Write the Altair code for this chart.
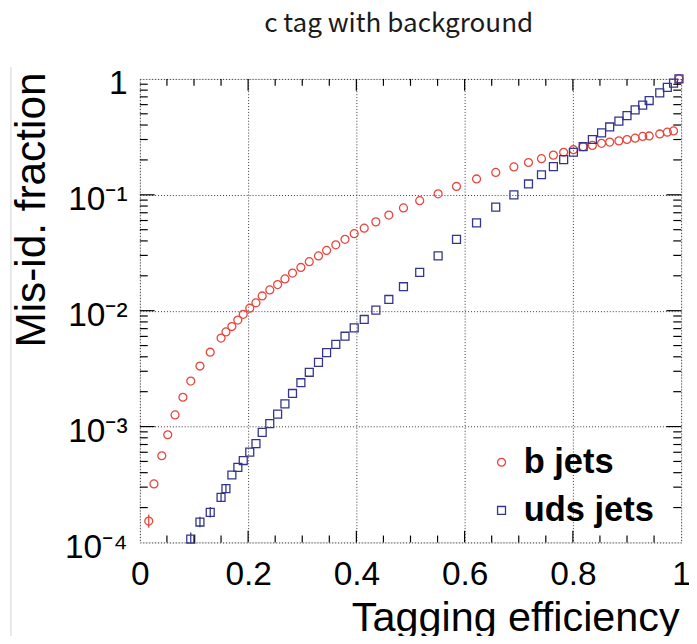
import json
import altair as alt
import pandas as pd

# ---------------- data ----------------
b_eff = [0.0164, 0.026, 0.0405, 0.0515, 0.065, 0.0795, 0.094, 0.111, 0.130, 0.150,
         0.159, 0.170, 0.181, 0.191, 0.203, 0.2145, 0.226, 0.240, 0.2545, 0.268,
         0.282, 0.2975, 0.313, 0.330, 0.345, 0.362, 0.379, 0.396, 0.4145, 0.436,
         0.460, 0.487, 0.517, 0.551, 0.585, 0.622, 0.6575, 0.691, 0.718, 0.742,
         0.764, 0.783, 0.801, 0.819, 0.836, 0.853, 0.868, 0.885, 0.900, 0.915,
         0.929, 0.941, 0.9605, 0.9745, 0.986, 0.996]
b_frac = [1.53e-4, 3.2e-4, 5.6e-4, 8.5e-4, 1.26e-3, 1.79e-3, 2.47e-3, 3.33e-3, 4.38e-3, 5.8e-3,
          6.56e-3, 7.3e-3, 8.3e-3, 9.3e-3, 1.05e-2, 1.17e-2, 1.34e-2, 1.51e-2, 1.68e-2, 1.88e-2,
          2.11e-2, 2.36e-2, 2.65e-2, 2.97e-2, 3.31e-2, 3.70e-2, 4.13e-2, 4.62e-2, 5.15e-2, 5.84e-2,
          6.68e-2, 7.71e-2, 8.9e-2, 0.102, 0.118, 0.137, 0.156, 0.174, 0.190, 0.205,
          0.220, 0.233, 0.245, 0.260, 0.267, 0.278, 0.285, 0.292, 0.300, 0.308,
          0.319, 0.322, 0.335, 0.347, 0.356, 1.0]

uds_eff = [0.094, 0.111, 0.130, 0.150, 0.159, 0.170, 0.181, 0.191, 0.203, 0.2145,
           0.226, 0.240, 0.2545, 0.268, 0.282, 0.2975, 0.313, 0.330, 0.345, 0.362,
           0.379, 0.396, 0.4145, 0.436, 0.460, 0.487, 0.517, 0.551, 0.585, 0.622,
           0.6575, 0.691, 0.718, 0.742, 0.764, 0.783, 0.801, 0.819, 0.836, 0.853,
           0.868, 0.885, 0.900, 0.915, 0.929, 0.941, 0.9605, 0.9745, 0.986, 0.996]
uds_frac = [1.07e-4, 1.50e-4, 1.82e-4, 2.45e-4, 2.91e-4, 3.82e-4, 4.44e-4, 5.09e-4, 6.02e-4, 7.13e-4,
            8.9e-4, 1.06e-3, 1.28e-3, 1.57e-3, 1.93e-3, 2.39e-3, 2.94e-3, 3.58e-3, 4.35e-3, 5.12e-3,
            6.02e-3, 7.1e-3, 8.4e-3, 1.01e-2, 1.25e-2, 1.61e-2, 2.14e-2, 2.97e-2, 4.13e-2, 5.72e-2,
            7.82e-2, 0.100, 0.124, 0.149, 0.175, 0.201, 0.233, 0.260, 0.300, 0.342,
            0.385, 0.432, 0.483, 0.540, 0.595, 0.651, 0.757, 0.845, 0.920, 1.0]

# visible error bars (others hidden behind markers)
err_series = ["b jets", "uds jets", "uds jets", "uds jets", "uds jets", "uds jets"]
err_eff = [0.0164, 0.094, 0.111, 0.130, 0.150, 0.159]
err_lo = [1.34e-4, 0.94e-4, 1.35e-4, 1.64e-4, 2.24e-4, 2.69e-4]
err_hi = [1.74e-4, 1.22e-4, 1.67e-4, 2.02e-4, 2.68e-4, 3.15e-4]

series_names = ["b jets", "uds jets"]
series_colors = ["#e8453c", "#33348a"]
series_shapes = ["circle", "square"]

x_major = [0, 0.2, 0.4, 0.6, 0.8, 1]
x_labels = ["0", "0.2", "0.4", "0.6", "0.8", "1"]
x_minor = [0.05, 0.1, 0.15, 0.25, 0.3, 0.35, 0.45, 0.5, 0.55, 0.65, 0.7, 0.75, 0.85, 0.9, 0.95]
x_inner_major = [0.2, 0.4, 0.6, 0.8]

y_major = [1e-4, 1e-3, 1e-2, 1e-1, 1]
y_labels = ["10⁻⁴", "10⁻³", "10⁻²", "10⁻¹", "1"]
y_inner_major = [1e-3, 1e-2, 1e-1]
y_decades = [1e-4, 1e-3, 1e-2, 1e-1]
y_mantissas = [2, 3, 4, 5, 6, 7, 8, 9]
y_minor = [m * d for d in y_decades for m in y_mantissas]

W, H = 550, 471
FONT = "Liberation Sans"

df = pd.concat([
    pd.DataFrame({"eff": b_eff, "frac": b_frac, "series": "b jets"}),
    pd.DataFrame({"eff": uds_eff, "frac": uds_frac, "series": "uds jets"}),
])
err_df = pd.DataFrame({"series": err_series, "eff": err_eff, "lo": err_lo, "hi": err_hi})

xs = alt.Scale(domain=[0, 1], nice=False, zero=False)
ys = alt.Scale(type="log", domain=[1e-4, 1], nice=False)
legend = alt.Legend(title=None, orient="none", legendX=350, legendY=372,
                    labelFontSize=35, labelFont=FONT, labelFontWeight="bold",
                    labelColor="black", symbolSize=65, symbolStrokeWidth=1.3,
                    rowPadding=13, labelOffset=5, padding=0)
color = alt.Color("series:N", scale=alt.Scale(domain=series_names, range=series_colors),
                  legend=legend)
shape = alt.Shape("series:N", scale=alt.Scale(domain=series_names, range=series_shapes),
                  legend=legend)

y_label_expr = json.dumps(y_labels) + "[round(log(datum.value)/LN10)+4]"
x_label_expr = json.dumps(x_labels) + "[round(datum.value*5)]"

x_axis = alt.Axis(values=x_major, labelExpr=x_label_expr, tickSize=0, domain=False,
                  grid=True, gridDash=[1, 2], gridColor="#333", gridWidth=1,
                  labelFontSize=34, labelFont=FONT, labelColor="black", labelPadding=16,
                  labelFlush=False, labelOverlap=False,
                  title="Tagging efficiency", titleFontSize=42, titleFont=FONT,
                  titleFontWeight="normal", titleColor="black", titleAlign="right",
                  titleX=548, titleY=89, titleBaseline="alphabetic")
y_axis = alt.Axis(values=y_major, labelExpr=y_label_expr, tickSize=0, domain=False,
                  grid=True, gridDash=[1, 2], gridColor="#333", gridWidth=1,
                  labelFontSize=34, labelFont=FONT, labelColor="black", labelPadding=13,
                  labelFlush=False, labelOverlap=False, labelOffset=5,
                  title="Mis-id. fraction", titleFontSize=43, titleFont=FONT,
                  titleFontWeight="normal", titleColor="black", titleAngle=270,
                  titleAlign="right", titleX=-97, titleY=-7, titleBaseline="alphabetic")

errs = alt.Chart(err_df).mark_rule(strokeWidth=1.3, clip=True).encode(
    x=alt.X("eff:Q", scale=xs, axis=x_axis),
    y=alt.Y("lo:Q", scale=ys, axis=y_axis), y2="hi:Q",
    color=color,
)

points = alt.Chart(df).mark_point(filled=False, size=65, strokeWidth=1.3, opacity=1).encode(
    x=alt.X("eff:Q", scale=xs, axis=x_axis),
    y=alt.Y("frac:Q", scale=ys, axis=y_axis),
    color=color, shape=shape,
)

def xticks(vals, length):
    d = pd.DataFrame({"v": vals})
    bot = alt.Chart(d).mark_rule(color="black", strokeWidth=1.2).encode(
        x=alt.X("v:Q"), y=alt.value(H), y2=alt.value(H - length))
    top = alt.Chart(d).mark_rule(color="black", strokeWidth=1.2).encode(
        x=alt.X("v:Q"), y=alt.value(0), y2=alt.value(length))
    return [bot, top]

def yticks(vals, length):
    d = pd.DataFrame({"v": vals})
    left = alt.Chart(d).mark_rule(color="black", strokeWidth=1.2).encode(
        y=alt.Y("v:Q"), x=alt.value(0), x2=alt.value(length))
    right = alt.Chart(d).mark_rule(color="black", strokeWidth=1.2).encode(
        y=alt.Y("v:Q"), x=alt.value(W), x2=alt.value(W - length))
    return [left, right]

edge = alt.Chart(pd.DataFrame({"v": [0]})).mark_rule(color="#d0d0d0", strokeWidth=1).encode(
    x=alt.value(-131), y=alt.value(-12), y2=alt.value(580))

layers = ([errs, points] + xticks(x_inner_major, 12) + xticks(x_minor, 7)
          + yticks(y_inner_major, 15) + yticks(y_minor, 8) + [edge])

chart = alt.layer(*layers).properties(
    width=W, height=H,
    autosize=alt.AutoSizeParams(type="none"),
    padding={"left": 134, "top": 67, "right": 8, "bottom": 90},
    title=alt.TitleParams(text="c tag with background", font="Noto Sans CJK JP", fontSize=26.5,
                          fontWeight="normal", color="#1a1a1a", anchor="middle", dx=-12,
                          offset=9, baseline="alphabetic"),
).configure_view(stroke="black", strokeWidth=2).configure(background="white")

chart.save("out.html", embed_options={"renderer": "svg", "actions": False})
